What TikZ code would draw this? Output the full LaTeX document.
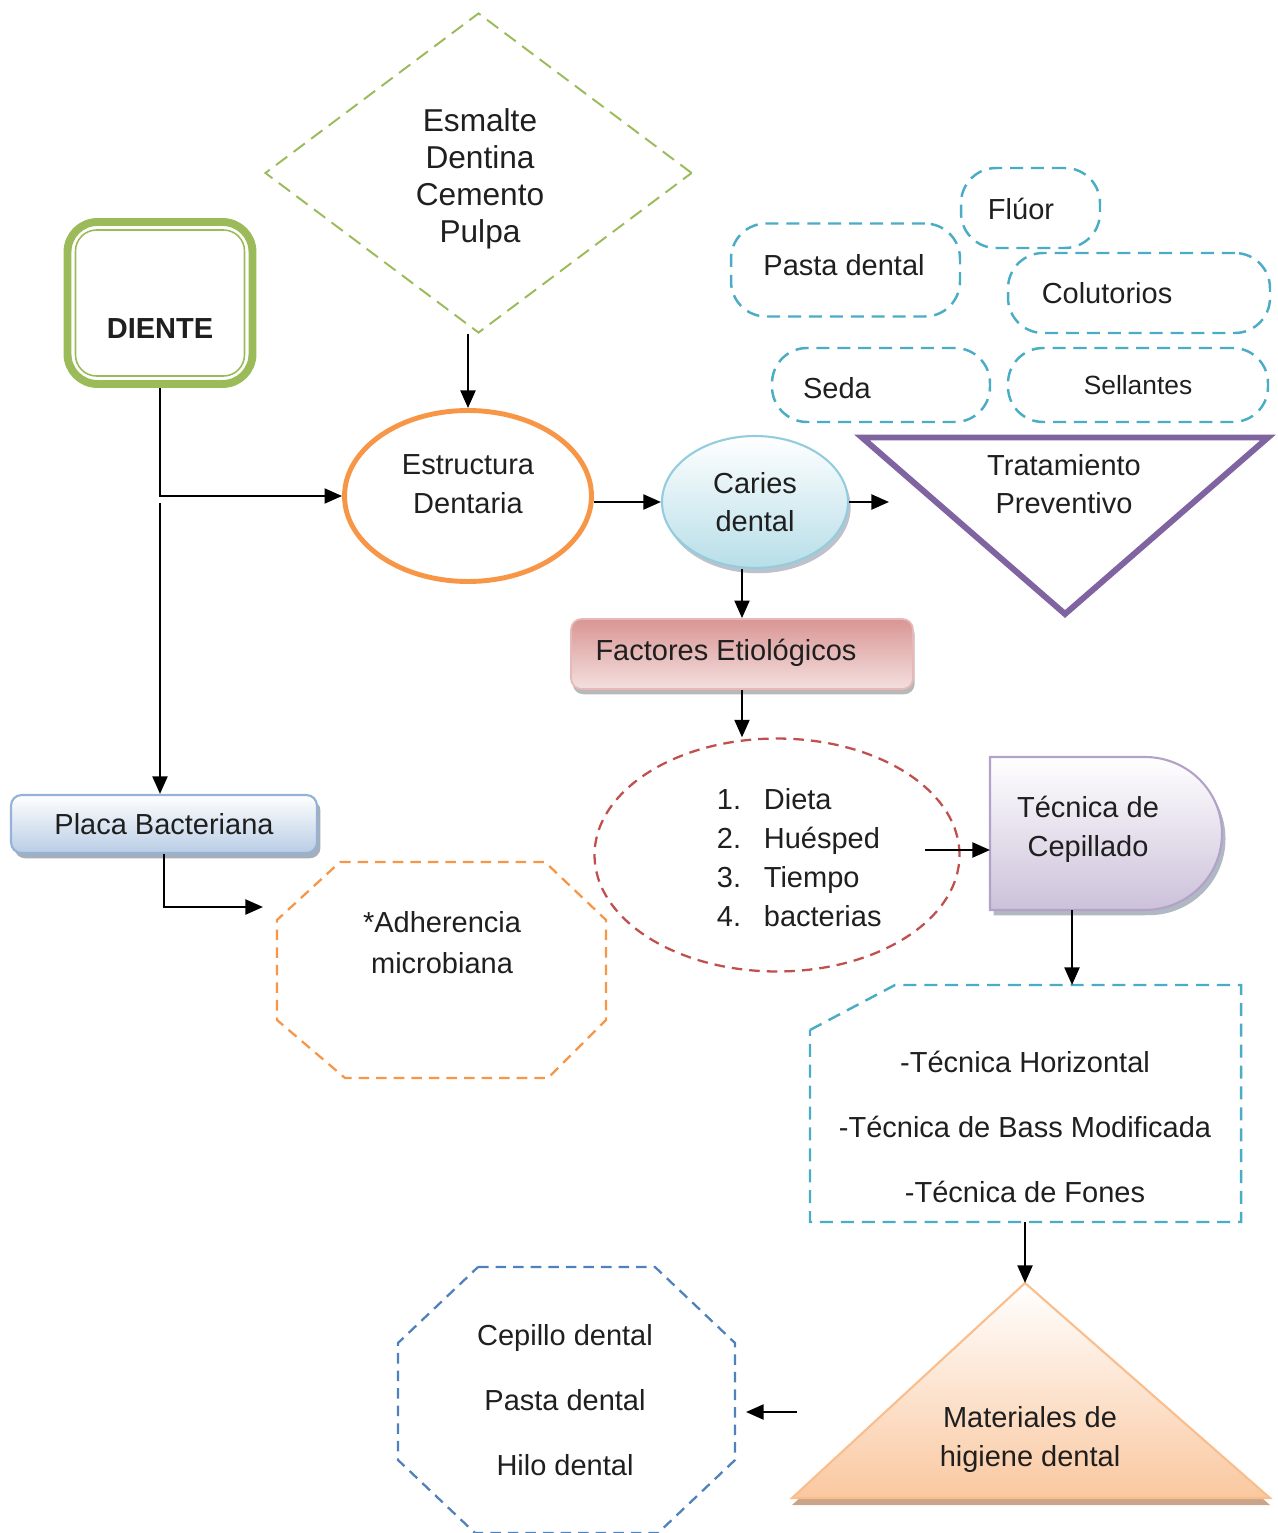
\documentclass[tikz,border=0pt]{standalone}
\usepackage{fontspec}
\setmainfont{Liberation Sans}
\usetikzlibrary{arrows.meta,shapes.geometric,shadows}

\definecolor{verde}{HTML}{9BBB59}
\definecolor{naranja}{HTML}{F79646}
\definecolor{celeste}{HTML}{4BACC6}
\definecolor{morado}{HTML}{8064A2}
\definecolor{rojo}{HTML}{C0504D}
\definecolor{azul}{HTML}{4F81BD}
\definecolor{cariesfill}{HTML}{B7DEE8}
\definecolor{cariesborde}{HTML}{93CDDD}
\definecolor{placafill}{HTML}{B9CDE5}
\definecolor{placaborde}{HTML}{95B3D7}
\definecolor{factfill}{HTML}{D99694}
\definecolor{factborde}{HTML}{E6B9B8}
\definecolor{tecfill}{HTML}{CCC1DA}
\definecolor{tecborde}{HTML}{B3A2C7}
\definecolor{matfill}{HTML}{FAC8A0}
\definecolor{matborde}{HTML}{F9BE8C}
\definecolor{sombra}{HTML}{8F9AAA}
\definecolor{sombramat}{HTML}{C8A58A}

\tikzset{
  every node/.style={font=\fontsize{16.5}{21}\selectfont, text=black!88, inner sep=0pt},
  arr/.style={line width=1.3pt, -{Triangle[length=10pt,width=8.5pt]}},
  burbuja/.style={draw=celeste, line width=1.4pt, dash pattern=on 7.4pt off 4.5pt, rounded corners=20pt},
  dos/.style={align=center, font=\fontsize{16.5}{22}\selectfont},
  tres/.style={align=center, font=\fontsize{16.5}{37}\selectfont},
}

\begin{document}
\begin{tikzpicture}[x=0.02cm, y=-0.02cm]
  \useasboundingbox (0,0) rectangle (1277,1533);

  % capas del diente
  \node[diamond, draw=verde, line width=1.1pt, dash pattern=on 8pt off 4.5pt,
        minimum width=8.54cm, minimum height=6.4cm] (capas) at (478.5,173) {};
  \node[align=center, font=\fontsize{18}{21}\selectfont] (capasT) at (480,179)
        {Esmalte\\Dentina\\Cemento\\Pulpa};

  % diente
  \node[draw=verde, line width=4.5pt, rounded corners=17pt,
        minimum width=3.7cm, minimum height=3.24cm] (diente) at (160,303) {};
  \draw[verde, line width=0.9pt, rounded corners=12pt] (75.5,230) rectangle (244.5,376);
  \node[font=\bfseries\fontsize{16.5}{21}\selectfont] (dienteT) at (160,329) {DIENTE};

  \node[ellipse, draw=naranja, line width=2.8pt,
        minimum width=4.94cm, minimum height=3.42cm] (estr) at (468,496) {};
  \node[dos] (estrT) at (468,484) {Estructura\\Dentaria};

  \node[ellipse, draw=cariesborde, line width=1.2pt, top color=white, bottom color=cariesfill,
        drop shadow={shadow xshift=1.5pt, shadow yshift=-3pt, fill=sombra, opacity=0.6},
        minimum width=3.72cm, minimum height=2.64cm, dos] (caries) at (755,502) {Caries\\dental};

  % tratamiento
  \draw[morado, line width=3.4pt, line join=miter] (862,437.5) -- (1268,437.5) -- (1065,614) -- cycle;
  \node[dos] (trat) at (1064,484) {Tratamiento\\Preventivo};

  \node[burbuja, minimum width=2.78cm, minimum height=1.6cm] (fluor) at (1030.5,208) {};
  \node (fluorT) at (1021,209) {Flúor};
  \node[burbuja, minimum width=4.58cm, minimum height=1.86cm] (pasta) at (845.5,270) {};
  \node (pastaT) at (844,265) {Pasta dental};
  \node[burbuja, minimum width=5.24cm, minimum height=1.6cm] (colut) at (1139,293) {};
  \node (colutT) at (1107,293) {Colutorios};
  \node[burbuja, minimum width=4.36cm, minimum height=1.48cm] (seda) at (881,385) {};
  \node (sedaT) at (837,388) {Seda};
  \node[burbuja, minimum width=5.2cm, minimum height=1.48cm,
        font=\fontsize{15}{18}\selectfont] (sell) at (1138,385) {Sellantes};

  % factores
  \node[draw=factborde, line width=1pt, rounded corners=6pt, top color=factfill, bottom color=factfill!30,
        drop shadow={shadow xshift=1pt, shadow yshift=-3pt, fill=gray!70, opacity=0.8},
        minimum width=6.84cm, minimum height=1.4cm] (fact) at (742,654) {};
  \node (factT) at (726,653) {Factores Etiológicos};

  \node[ellipse, draw=rojo, line width=1.3pt, dash pattern=on 6pt off 4pt,
        minimum width=7.3cm, minimum height=4.66cm] (lista) at (777,855) {};
  \node[align=left, font=\fontsize{16.5}{22.3}\selectfont] (listaT) at (799,857.5)
    {\makebox[14pt][r]{1.}\hspace{13pt}Dieta\\
     \makebox[14pt][r]{2.}\hspace{13pt}Huésped\\
     \makebox[14pt][r]{3.}\hspace{13pt}Tiempo\\
     \makebox[14pt][r]{4.}\hspace{13pt}bacterias};

  % tecnica de cepillado
  \draw[draw=tecborde, line width=1.2pt, top color=white, bottom color=tecfill,
        drop shadow={shadow xshift=2pt, shadow yshift=-3pt, fill=sombra, opacity=0.7}]
    (990,757) -- (1145,757) arc[start angle=90, end angle=-90, x radius=1.54cm, y radius=1.53cm]
    -- (1072,910) coordinate (tecS) -- (990,910) -- (990,850) coordinate (tecW) -- cycle;
  \node[dos] (tecT) at (1088,829.5) {Técnica de\\Cepillado};

  \draw[celeste, line width=1.4pt, dash pattern=on 7.4pt off 4.5pt]
    (810,1030) -- (895,985) -- (1072,985) coordinate (tiposN) -- (1241,985) -- (1241,1222)
    -- (1025,1222) coordinate (tiposS) -- (810,1222) -- cycle;
  \node[tres] (tiposT) at (1025,1126.5)
    {-Técnica Horizontal\\-Técnica de Bass Modificada\\-Técnica de Fones};

  % materiales
  \draw[matborde, line width=1.2pt, top color=white, bottom color=matfill,
        drop shadow={shadow xshift=0pt, shadow yshift=-4pt, fill=sombramat, opacity=1}]
    (792,1498) -- (1025,1283) coordinate (matN) -- (1270,1498) -- cycle;
  \node[dos] (matT) at (1030,1439.5) {Materiales de\\higiene dental};

  \draw[naranja, line width=1.3pt, dash pattern=on 6pt off 4pt]
    (340,862) -- (545,862) -- (606,920) -- (606,1020) -- (548,1078)
    -- (345,1078) -- (277,1020) -- (277,920) -- cycle;
  \node[align=center, font=\fontsize{16.5}{23}\selectfont] (adhT) at (442,942.5) {*Adherencia\\microbiana};

  \draw[azul, line width=1.3pt, dash pattern=on 6pt off 4pt]
    (478,1267) -- (655,1267) -- (735,1343) -- (735,1460) -- (658,1533)
    -- (475,1533) -- (398,1460) -- (398,1343) -- cycle;
  \node[tres] (cepT) at (565,1400.5) {Cepillo dental\\Pasta dental\\Hilo dental};

  % placa
  \node[draw=placaborde, line width=1.2pt, rounded corners=6pt, top color=white, bottom color=placafill,
        drop shadow={shadow xshift=2pt, shadow yshift=-3pt, fill=sombra, opacity=0.8},
        minimum width=6.12cm, minimum height=1.16cm] (placa) at (164,824) {Placa Bacteriana};

  % conectores
  \coordinate (rama) at (160,503);
  \coordinate (tratIn) at (889,501);
  \coordinate (listaOut) at (925,850);
  \coordinate (adhIn) at (263,907);
  \coordinate (matOut) at (797,1412);
  \coordinate (cepIn) at (746,1412);

  \draw[arr] (capas.south -| estr.north) -- (estr.north);
  \draw[arr] (diente.south) |- (estr.west);
  \draw[arr] (rama) -- (rama |- placa.north);
  \draw[arr] (estr.east |- caries.west) -- (caries.west);
  \draw[arr] (caries.east) -- (caries.east -| tratIn);
  \draw[arr] (caries.south -| fact.north) -- (fact.north);
  \draw[arr] (fact.south) -- (fact.south |- lista.north);
  \draw[arr] (listaOut) -- (tecW);
  \draw[arr] (tecS) -- (tiposN);
  \draw[arr] (tiposS) -- (matN);
  \draw[arr] (matOut) -- (cepIn);
  \draw[arr] (placa.south) |- (adhIn);

\end{tikzpicture}
\end{document}
